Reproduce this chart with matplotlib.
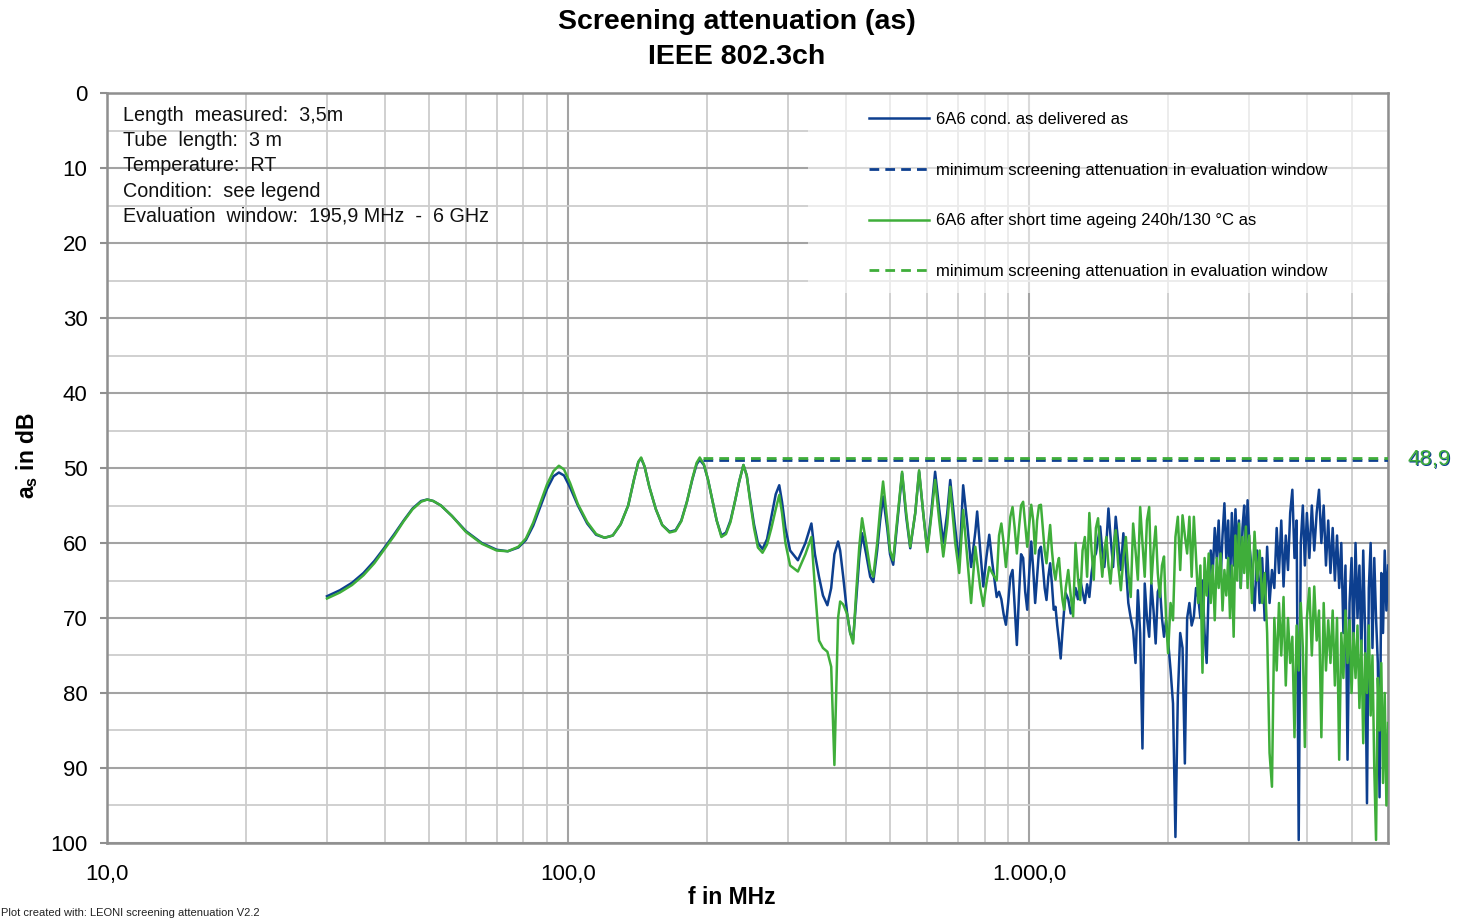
import matplotlib
matplotlib.use("Agg")
import matplotlib.pyplot as plt
from matplotlib.patches import Rectangle
from matplotlib.ticker import FixedLocator, MultipleLocator, NullFormatter
import matplotlib.transforms as mtransforms

plt.rcParams['font.family'] = ['Liberation Sans', 'DejaVu Sans']
plt.rcParams['mathtext.fontset'] = 'custom'
plt.rcParams['mathtext.rm'] = 'Liberation Sans:bold'
plt.rcParams['mathtext.it'] = 'Liberation Sans:bold'

# Frequencies (MHz)
f_low = [30, 32, 34, 36, 38, 40, 42, 44, 46, 48,
         49.5, 51, 53, 56, 60, 65, 70, 74, 78, 81,
         84, 87, 90, 93, 95.5, 98, 101, 105, 110, 115,
         120, 125, 130, 135, 139, 142, 144, 146.5, 150, 155,
         160, 166, 171, 176, 181, 186, 190, 193, 197, 201,
         205, 210, 215, 220, 225, 230, 235, 240, 244, 248,
         253, 258, 264, 270, 276, 282, 287, 291, 296, 303,
         315]
f_mid = [327, 337, 343, 350, 357, 365, 372, 378, 385, 389,
         395, 403, 409, 415, 421, 428, 434, 443, 452, 459,
         468, 475, 482, 492, 499, 507, 517, 530, 541, 552,
         566, 577, 589, 601, 613, 625, 638, 651, 664, 674,
         691, 705, 719, 734, 748, 764, 771, 783, 795, 807,
         819, 831]
f_high = [850, 860, 870, 880, 890, 900, 910, 920, 930, 940,
          950, 960, 970, 980, 990, 1000, 1010, 1020, 1030, 1040,
          1050, 1060, 1070, 1080, 1090, 1100, 1110, 1120, 1130, 1140,
          1150, 1160, 1170, 1180, 1190, 1200,
          1215, 1230, 1245, 1260, 1275, 1290, 1305, 1320, 1335, 1350,
          1365, 1380, 1395, 1410, 1425, 1440, 1455, 1470, 1485, 1500,
          1520, 1540, 1560, 1580, 1600, 1620, 1640, 1660, 1680, 1700,
          1720, 1740, 1760, 1780, 1800, 1820, 1840, 1860, 1880, 1900,
          1920, 1940, 1960, 1980, 2000,
          2025, 2050, 2075, 2100, 2125, 2150, 2175, 2200, 2225, 2250,
          2275, 2300, 2325, 2350, 2375, 2400, 2425, 2450, 2475, 2500,
          2525, 2550, 2575, 2600, 2625, 2650, 2675, 2700, 2725, 2750,
          2775, 2800, 2825, 2850, 2875, 2900, 2925, 2950, 2975, 3000,
          3040, 3080, 3120, 3160, 3200, 3240, 3280, 3320, 3360, 3400,
          3440, 3480, 3520, 3560, 3600, 3640, 3680, 3720, 3760, 3800,
          3840, 3880, 3920, 3960, 4000,
          4050, 4100, 4150, 4200, 4250, 4300, 4350, 4400, 4450, 4500,
          4550, 4600, 4650, 4700, 4750, 4800, 4850, 4900, 4950, 5000,
          5050, 5100, 5150, 5200, 5250, 5300, 5350, 5400, 5450, 5500,
          5550, 5600, 5650, 5700, 5750, 5800, 5850, 5900, 5950, 6000]

# 6A6 cond. as delivered (dB)
delivered_low = [67.1, 66.3, 65.3, 64.0, 62.4, 60.6, 58.8, 57.0, 55.4, 54.4,
                 54.2, 54.4, 55.0, 56.4, 58.4, 60.0, 60.9, 61.1, 60.6, 59.6,
                 57.7, 55.2, 52.8, 51.1, 50.6, 51.0, 52.6, 55.0, 57.4, 58.9,
                 59.3, 59.0, 57.5, 55.0, 51.5, 49.2, 48.7, 49.8, 52.5, 55.5,
                 57.6, 58.5, 58.3, 57.0, 54.5, 51.5, 49.5, 48.9, 49.6, 51.5,
                 54.0, 57.0, 59.0, 58.6, 57.0, 54.5, 51.8, 49.6, 51.0, 54.0,
                 57.5, 60.0, 60.8, 59.5, 56.5, 53.5, 52.3, 54.5, 58.0, 61.0,
                 62.3]
delivered_mid = [60.0, 57.4, 61.5, 64.5, 67.0, 68.3, 66.0, 61.5, 59.8, 61.0,
                 64.5, 69.5, 72.0, 72.9, 68.0, 62.0, 58.7, 61.5, 64.5, 65.2,
                 61.0, 57.0, 53.8, 58.0, 61.5, 62.9, 57.5, 50.7, 56.5, 60.7,
                 56.0, 50.5, 56.0, 60.9, 56.0, 50.5, 55.5, 60.0, 56.0, 51.6,
                 58.0, 62.9, 52.3, 57.5, 63.2, 58.5, 55.8, 61.0, 65.8, 62.0,
                 58.9, 62.5]
delivered_high = [67.2, 66.5, 67.5, 69.5, 70.9, 68, 64.5, 63.6, 68.5, 73.6,
                  67, 61.5, 62, 66.5, 68.9, 64, 59.8, 63.5, 68, 64.5,
                  61, 60.5, 63, 66, 67.6, 64.5, 62.7, 65.5, 68.9, 68.5,
                  71, 73, 75.4, 72, 69, 66.7,
                  67.5, 69.4, 68, 66, 67.5, 64.9, 66.5, 68, 65.5, 67.2,
                  64, 62, 61.4, 59.5, 57.8, 61, 63.2, 60, 55.4, 59,
                  63.2, 56.5, 60, 63.6, 58.7, 63, 68, 70, 71.6, 76,
                  66.3, 72, 87.4, 65.4, 70, 72.5, 65.4, 69, 73.4, 66.5,
                  65.8, 70, 72.5, 70.3, 73,
                  76.9, 81.4, 99.2, 80.5, 72, 74, 89.4, 70, 68, 71,
                  69.8, 66, 67.2, 70, 65, 72, 76, 66, 61, 64,
                  58, 62, 57, 65, 59, 54.7, 62, 57, 66, 56,
                  63, 55.5, 61, 57, 66, 58, 55, 62, 54.3, 60,
                  64, 69, 61, 68, 62, 70.3, 60.5, 68, 63.6, 66,
                  58, 64, 57, 65.8, 59, 63.6, 56, 52.9, 62, 57,
                  99.6, 60, 55, 63, 56,
                  62, 55, 61, 56, 52.9, 60, 55, 63, 57, 64,
                  58, 65, 59, 66, 60, 72, 63, 88.9, 68, 62,
                  73, 60, 70, 63, 75, 61, 72, 94.7, 66, 60,
                  74, 62, 70, 76, 93.9, 64, 72, 61, 69, 63]

# 6A6 after short time ageing 240h/130 °C (dB)
aged_low = [67.4, 66.6, 65.6, 64.3, 62.7, 60.8, 59.0, 57.1, 55.5, 54.5,
            54.2, 54.4, 55.0, 56.4, 58.5, 60.1, 61.0, 61.1, 60.5, 59.4,
            57.3, 54.7, 52.2, 50.4, 49.7, 50.2, 52.0, 54.8, 57.2, 58.8,
            59.3, 59.0, 57.5, 55.0, 51.5, 49.2, 48.6, 49.8, 52.5, 55.5,
            57.6, 58.6, 58.4, 57.1, 54.5, 51.4, 49.3, 48.6, 49.5, 51.5,
            54.0, 57.0, 59.2, 58.8, 57.2, 54.5, 51.8, 49.6, 51.0, 54.3,
            58.0, 60.6, 61.3, 60.2, 58.0, 55.5, 53.6, 56.0, 60.0, 63.0,
            63.8]
aged_mid = [61.5, 59.2, 66.0, 73.0, 74.0, 74.5, 76.5, 89.6, 70.0, 67.8,
            68.2, 69.5, 72.0, 73.4, 67.0, 60.5, 56.7, 60.0, 63.5, 64.5,
            60.0, 55.5, 51.8, 57.0, 61.0, 62.3, 57.0, 50.5, 56.0, 60.5,
            56.0, 50.3, 56.0, 61.2, 56.5, 51.6, 57.0, 61.8, 57.5, 52.5,
            60.0, 64.0, 55.6, 62.0, 68.0, 60.5, 62.5, 66.0, 68.4, 65.5,
            63.2, 64.0]
aged_high = [65, 59, 57.4, 60, 63.2, 60, 56.5, 55.2, 58, 61.4,
             58, 55, 54.5, 57.5, 60.5, 57.5, 54.9, 57, 61.4, 57,
             55, 54.9, 58, 61, 62.7, 60, 57.6, 61, 63.5, 64.9,
             63, 62, 65, 67.5, 68.9, 66,
             63.6, 67, 69.8, 60, 64.5, 67.6, 61, 59.2, 64.5, 56,
             61, 64.9, 58, 56.7, 61, 64.5, 61, 59.2, 63, 65.4,
             61, 58.3, 63, 66.3, 62, 59.2, 64, 67.2, 57.4, 61,
             64.9, 55.2, 60, 64.5, 57, 55.2, 65.4, 61, 57.8, 64,
             67.2, 63, 61.8, 70, 74.7,
             68, 70.3, 59.2, 56.5, 63.6, 56.3, 59, 61.4, 56.5, 64.5,
             56.5, 62, 68, 63, 77.3, 62, 67, 61.4, 68, 63,
             70.3, 62, 66, 61.4, 69, 63.6, 67, 62, 70, 63,
             72.5, 59, 65, 57.4, 66, 59.2, 64, 57.8, 66, 59,
             68, 58.5, 65, 61, 68, 64, 72, 88, 92.5, 70,
             77, 68, 75, 67.2, 79, 70, 76, 72.5, 85.9, 71,
             77, 68, 74, 87.2, 70,
             66, 75, 65.8, 73, 69, 85.9, 68, 77, 70.3, 76,
             69, 79, 70, 88.9, 72, 78, 69, 76, 70.3, 80,
             72, 78, 71, 82, 73, 86.7, 74.7, 80, 71, 83,
             75, 90, 99.6, 78, 85, 76, 92, 80, 95, 84]

freq_mhz = f_low + f_mid + f_high
as_delivered = delivered_low + delivered_mid + delivered_high
as_aged = aged_low + aged_mid + aged_high

# Minimum screening attenuation in evaluation window
eval_window = [195.9, 6000]
min_delivered = 48.9
min_aged = 48.6

x_ticks = [10, 100, 1000]
x_tick_labels = ['10,0', '100,0', '1.000,0']
y_ticks = [0, 10, 20, 30, 40, 50, 60, 70, 80, 90, 100]

info_lines = ['Length  measured:  3,5m',
              'Tube  length:  3 m',
              'Temperature:  RT',
              'Condition:  see legend',
              'Evaluation  window:  195,9 MHz  -  6 GHz']
legend_labels = ['6A6 cond. as delivered as',
                 'minimum screening attenuation in evaluation window',
                 '6A6 after short time ageing 240h/130 \u00b0C as',
                 'minimum screening attenuation in evaluation window']

blue = '#0d3f8f'
green = '#3fae3a'

fig = plt.figure(figsize=(14.57, 9.21), dpi=100)
ax = fig.add_axes([0.0734, 0.0847, 0.8793, 0.8143])

l1, = ax.plot(freq_mhz, as_delivered, color=blue, lw=1.8, zorder=3)
l2, = ax.plot(eval_window, [min_delivered, min_delivered], color=blue, lw=2.0,
              dashes=(3.5, 2.2), zorder=4)
l3, = ax.plot(freq_mhz, as_aged, color=green, lw=1.8, zorder=3.5)
l4, = ax.plot(eval_window, [min_aged, min_aged], color=green, lw=2.0,
              dashes=(3.5, 2.2), zorder=4)

ax.set_xscale('log')
ax.set_xlim(10, 6000)
ax.set_ylim(100, 0)
ax.xaxis.set_major_locator(FixedLocator(x_ticks))
ax.set_xticklabels(x_tick_labels)
ax.xaxis.set_minor_formatter(NullFormatter())
ax.set_yticks(y_ticks)
ax.yaxis.set_minor_locator(MultipleLocator(5))

ax.grid(which='major', color='#a3a3a3', lw=1.5, zorder=0)
ax.grid(which='minor', color='#cdcdcd', lw=1.3, zorder=0)
ax.set_axisbelow(True)
for s in ax.spines.values():
    s.set_color('#8f8f8f')
    s.set_linewidth(1.8)

ax.tick_params(axis='x', which='both', length=0, pad=15, labelsize=16)
ax.tick_params(axis='y', which='major', length=5, width=1.5, color='#8f8f8f',
               pad=9, labelsize=16)
ax.tick_params(axis='y', which='minor', length=0)

ax.set_xlabel('f in MHz', fontsize=16.5, fontweight='bold')
ax.xaxis.set_label_coords(0.488, -0.058)
ax.set_ylabel(r'a$_\mathregular{s}$ in dB', fontsize=16.5, fontweight='bold')
ax.yaxis.set_label_coords(-0.052, 0.517)

# semi-transparent legend background
ax.add_patch(Rectangle((0.547, 0.733), 0.453, 0.267, transform=ax.transAxes,
                       facecolor='white', alpha=0.6, edgecolor='none', zorder=1.6))
ax.legend([l1, l2, l3, l4], legend_labels, loc='upper left',
          bbox_to_anchor=(0.595, 0.975), frameon=False, borderpad=0,
          borderaxespad=0, handlelength=3.6, handletextpad=0.4,
          labelspacing=2.15, fontsize=12)

ax.text(0.0125, 0.983, '\n'.join(info_lines), transform=ax.transAxes,
        ha='left', va='top', fontsize=14.2, linespacing=1.42, color='#111111')

trans = mtransforms.blended_transform_factory(ax.transAxes, ax.transData)
label_min = f'{min_delivered:.1f}'.replace('.', ',')
ax.text(1.016, min_delivered + 0.15, label_min, transform=trans, color=blue,
        fontsize=16, va='center', ha='left', clip_on=False)
ax.text(1.0155, min_delivered, label_min, transform=trans, color=green,
        fontsize=16, va='center', ha='left', clip_on=False)

fig.text(0.5058, 0.976, 'Screening attenuation (as)', ha='center', va='center',
         fontsize=20.5, fontweight='bold')
fig.text(0.5058, 0.938, 'IEEE 802.3ch', ha='center', va='center',
         fontsize=20.5, fontweight='bold')
fig.text(0.001, 0.009, 'Plot created with: LEONI screening attenuation V2.2',
         ha='left', va='center', fontsize=8, color='#222222')

fig.savefig('out.png', dpi=100)
